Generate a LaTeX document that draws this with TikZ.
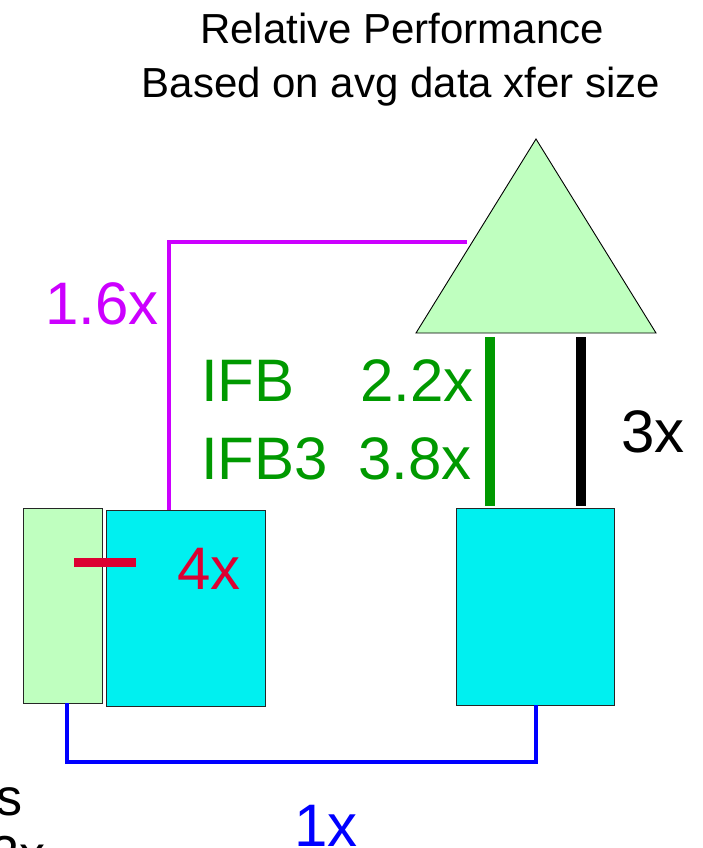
\documentclass[tikz,border=0pt]{standalone}
\usepackage{fontspec}
\setmainfont{Liberation Sans}
\begin{document}
\definecolor{palegreen}{HTML}{BFFFBF}
\definecolor{boxcyan}{HTML}{00F0F0}
\definecolor{linkmag}{HTML}{CC00FF}
\definecolor{linkred}{HTML}{DC0032}
\definecolor{linkgreen}{HTML}{009900}
\definecolor{edgegray}{HTML}{262626}
\begin{tikzpicture}[x=1pt,y=-1pt,
  unit/.style={draw=edgegray,line width=1.1pt,anchor=north west,inner sep=0pt},
  big/.style={font=\fontsize{60}{72}\selectfont,inner sep=0pt},
  head/.style={font=\fontsize{42}{50}\selectfont,inner sep=0pt,anchor=base},
  side/.style={font=\fontsize{52}{60}\selectfont,inner sep=0pt,anchor=base east},
  link/.style={line cap=butt}]
\useasboundingbox (0,0) rectangle (702,848);

% title
\node[head] (t1) at (402,44) {Relative Performance};
\node[head] (t2) at (401,98) {Based on avg data xfer size};

% units
\node[unit,fill=palegreen,minimum width=79pt,minimum height=195pt] (gbox) at (23,508) {};
\node[unit,fill=boxcyan,minimum width=159pt,minimum height=196pt] (lbox) at (106,510) {};
\node[unit,fill=boxcyan,minimum width=158pt,minimum height=197pt] (rbox) at (456,508) {};

% triangle
\coordinate (tA) at (536,139);
\coordinate (tL) at (416,333);
\coordinate (tR) at (656,333);
\filldraw[fill=palegreen,draw=black,line width=0.9pt,line join=miter] (tA) -- (tL) -- (tR) -- cycle;

% connector end points
\coordinate (magL) at (169,510);
\coordinate (magC) at (169,242);
\coordinate (magE) at (467,242);
\coordinate (gTop) at (490,337);
\coordinate (gBot) at (490,506);
\coordinate (kTop) at (581,337);
\coordinate (kBot) at (581,506);
\coordinate (rA) at (74,562);
\coordinate (rB) at (136,562);
\coordinate (bA) at (67,703);
\coordinate (bC1) at (67,762);
\coordinate (bC2) at (536,762);
\coordinate (bB) at (536,705);

% connectors
\draw[link,linkmag,line width=4.5pt] (magL) -- (magC) -- (magE);
\draw[link,linkgreen,line width=9.5pt] (gTop) -- (gBot);
\draw[link,black,line width=9.5pt] (kTop) -- (kBot);
\draw[link,linkred,line width=9pt] (rA) -- (rB);
\draw[link,blue,line width=4pt] (bA) -- (bC1) -- (bC2) -- (bB);

% labels
\node[big,anchor=base west,text=linkmag] (l16) at (45,324) {1.6x};
\node[big,anchor=base west,text=linkgreen] (lifb) at (201,401) {IFB};
\node[big,anchor=base west,text=linkgreen] (l22) at (360,401) {2.2x};
\node[big,anchor=base west,text=linkgreen] (lifb3) at (201,479) {IFB3};
\node[big,anchor=base west,text=linkgreen] (l38) at (358,479) {3.8x};
\node[big,anchor=base west,text=black] (l3) at (621,452) {3x};
\node[big,anchor=base west,text=linkred] (l4) at (177,589) {4x};
\node[big,anchor=base west,text=blue] (l1) at (294,846) {1x};
\node[side] (ls) at (23,815) {s};
\node[side] (l2) at (46,872) {2x};
\end{tikzpicture}
\end{document}
